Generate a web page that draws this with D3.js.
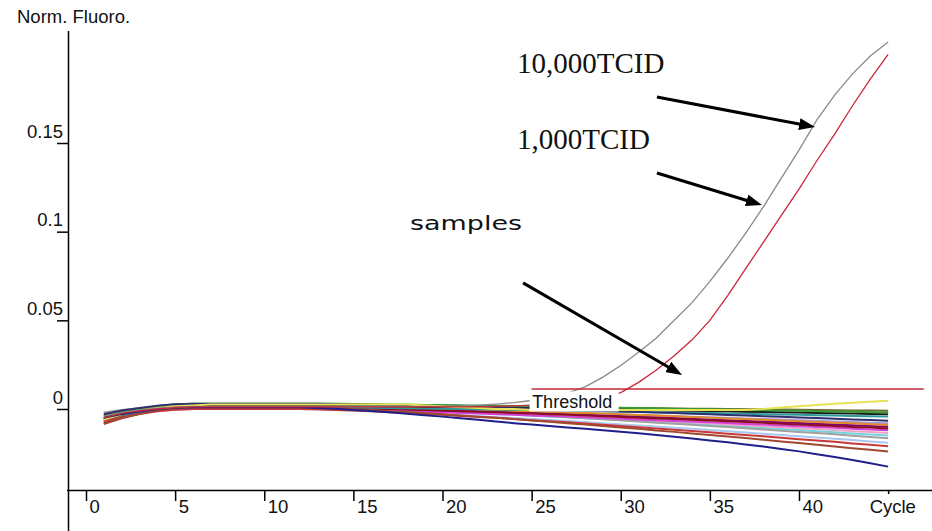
<!DOCTYPE html>
<html><head><meta charset="utf-8">
<script src="https://cdn.jsdelivr.net/npm/d3@7"></script>
<style>html,body{margin:0;padding:0;background:#fff;overflow:hidden} svg{display:block}</style>
</head><body>
<svg id="chart" width="932" height="531"></svg>
<script>
// ---------------- DATA ----------------
const cycles = [1,2,3,4,5,6,7,8,9,10,11,12,13,14,15,16,17,18,19,20,21,22,23,24,25,26,27,28,29,30,31,32,33,34,35,36,37,38,39,40,41,42,43,44,45];
const xTickValues = [0,5,10,15,20,25,30,35,40,45];
const xTickLabels = ["0","5","10","15","20","25","30","35","40","Cycle"];
const yTickValues = [0,0.05,0.1,0.15];
const yTickLabels = ["0","0.05","0.1","0.15"];
const yAxisTitle = "Norm. Fluoro.";
const thresholdLabel = "Threshold";
const thresholdValue = 0.0113;
const thresholdCycles = [25, 47];

const positiveNames = ["10,000TCID", "1,000TCID"];
const positive10000 = [-0.004,-0.002,-0.0005,0.0005,0.001,0.0015,0.0015,0.0015,0.0015,0.0015,0.0015,0.0015,0.0015,0.0015,0.0015,0.0015,0.0015,0.0015,0.0015,0.0015,0.0018,0.0022,0.0028,0.0036,0.0048,0.0065,0.009,0.0125,0.018,0.0245,0.032,0.04,0.05,0.06,0.072,0.085,0.099,0.114,0.13,0.146,0.163,0.177,0.189,0.199,0.207];
const positive1000 = [-0.005,-0.0025,-0.001,0,0.0008,0.0012,0.0012,0.0012,0.0012,0.0012,0.0012,0.0012,0.0012,0.0012,0.0012,0.0012,0.0012,0.0012,0.0012,0.0012,0.0012,0.0012,0.0015,0.0018,0.0022,0.0028,0.0036,0.0048,0.0066,0.0092,0.015,0.022,0.03,0.039,0.05,0.064,0.079,0.094,0.109,0.124,0.14,0.155,0.171,0.186,0.2];

// negative samples
const sampleYellow = [-0.006,-0.003,-0.001,0.0005,0.0015,0.002,0.0025,0.0025,0.0025,0.0025,0.0025,0.0025,0.0025,0.0025,0.0025,0.0025,0.0025,0.0025,0.002,0.0015,0.001,0.0005,0,0,-0.0005,-0.0005,-0.0005,-0.0005,-0.0005,-0.0005,-0.0005,-0.0005,-0.0005,-0.0005,-0.0005,-0.0005,-0.0005,0,0.0008,0.0015,0.0022,0.0029,0.0035,0.0041,0.0047];
const sampleGreen = [-0.004,-0.0015,0.0002,0.0017,0.0027,0.003,0.003,0.003,0.003,0.003,0.003,0.003,0.0029,0.0029,0.0028,0.0027,0.0026,0.0025,0.0023,0.0022,0.0021,0.0019,0.0018,0.0017,0.0015,0.0014,0.0012,0.001,0.0009,0.0007,0.0006,0.0004,0.0002,0,-0.0001,-0.0003,-0.0005,-0.0007,-0.0009,-0.001,-0.0012,-0.0014,-0.0016,-0.0018,-0.002];
const sampleOlive = [-0.006,-0.0032,-0.0012,0.0006,0.0016,0.002,0.002,0.002,0.002,0.002,0.002,0.002,0.002,0.0019,0.0019,0.0018,0.0017,0.0017,0.0016,0.0015,0.0014,0.0014,0.0013,0.0012,0.0011,0.001,0.0009,0.0008,0.0007,0.0006,0.0005,0.0004,0.0003,0.0002,0.0001,0,-0.0001,-0.0002,-0.0003,-0.0004,-0.0005,-0.0007,-0.0008,-0.0009,-0.001];
const sampleBlack = [-0.005,-0.0026,-0.0008,0.0007,0.0017,0.002,0.002,0.002,0.002,0.002,0.002,0.002,0.0019,0.0019,0.0018,0.0017,0.0016,0.0015,0.0013,0.0012,0.0011,0.0009,0.0008,0.0007,0.0005,0.0004,0.0002,0,-0.0001,-0.0003,-0.0004,-0.0006,-0.0008,-0.001,-0.0011,-0.0013,-0.0015,-0.0017,-0.0019,-0.002,-0.0022,-0.0024,-0.0026,-0.0028,-0.003];
const sampleTeal = [-0.007,-0.0042,-0.0022,-0.0004,0.0006,0.001,0.001,0.001,0.001,0.001,0.001,0.001,0.0009,0.0009,0.0008,0.0007,0.0005,0.0004,0.0003,0.0002,0,-0.0001,-0.0003,-0.0004,-0.0006,-0.0007,-0.0009,-0.0011,-0.0012,-0.0014,-0.0016,-0.0018,-0.002,-0.0021,-0.0023,-0.0025,-0.0027,-0.0029,-0.0031,-0.0033,-0.0035,-0.0037,-0.0039,-0.0041,-0.0043];
const sampleDarkNavy = [-0.003,-0.0009,0.0006,0.0019,0.0027,0.003,0.003,0.003,0.003,0.003,0.003,0.003,0.0029,0.0028,0.0026,0.0024,0.0022,0.0019,0.0017,0.0015,0.0012,0.001,0.0007,0.0004,0.0001,-0.0002,-0.0005,-0.0007,-0.0011,-0.0014,-0.0017,-0.002,-0.0023,-0.0027,-0.003,-0.0034,-0.0037,-0.0041,-0.0044,-0.0048,-0.0051,-0.0055,-0.0059,-0.0062,-0.0066];
const sampleLavender = [-0.005,-0.0029,-0.0014,-0.0001,0.0007,0.001,0.001,0.001,0.001,0.001,0.001,0.001,0.0009,0.0008,0.0006,0.0004,0.0002,0,-0.0002,-0.0004,-0.0007,-0.0009,-0.0012,-0.0014,-0.0017,-0.002,-0.0022,-0.0025,-0.0028,-0.0031,-0.0034,-0.0037,-0.004,-0.0043,-0.0046,-0.005,-0.0053,-0.0056,-0.0059,-0.0063,-0.0066,-0.007,-0.0073,-0.0077,-0.008];
const samplePurple = [-0.008,-0.0049,-0.0026,-0.0006,0.0006,0.001,0.001,0.001,0.001,0.001,0.001,0.001,0.0009,0.0007,0.0005,0.0003,0.0001,-0.0002,-0.0005,-0.0008,-0.001,-0.0013,-0.0016,-0.002,-0.0023,-0.0026,-0.003,-0.0033,-0.0036,-0.004,-0.0044,-0.0047,-0.0051,-0.0055,-0.0059,-0.0063,-0.0067,-0.0071,-0.0075,-0.0079,-0.0083,-0.0087,-0.0091,-0.0096,-0.01];
const sampleMagenta = [-0.006,-0.0039,-0.0024,-0.0011,-0.0003,0,0,0,0,0,0,0,-0.0001,-0.0003,-0.0005,-0.0008,-0.001,-0.0013,-0.0016,-0.0019,-0.0022,-0.0025,-0.0029,-0.0032,-0.0036,-0.0039,-0.0043,-0.0047,-0.0051,-0.0055,-0.0059,-0.0063,-0.0067,-0.0071,-0.0075,-0.0079,-0.0084,-0.0088,-0.0093,-0.0097,-0.0101,-0.0106,-0.0111,-0.0115,-0.012];
const sampleDarkRed = [-0.006,-0.0036,-0.0018,-0.0003,0.0006,0.001,0.001,0.001,0.001,0.001,0.001,0.001,0.0009,0.0007,0.0005,0.0002,0,-0.0003,-0.0006,-0.0009,-0.0012,-0.0015,-0.0019,-0.0022,-0.0026,-0.0029,-0.0033,-0.0037,-0.0041,-0.0045,-0.0049,-0.0053,-0.0057,-0.0061,-0.0065,-0.0069,-0.0074,-0.0078,-0.0083,-0.0087,-0.0091,-0.0096,-0.0101,-0.0105,-0.011];
const sampleOrange = [-0.007,-0.0039,-0.0016,0.0004,0.0016,0.002,0.002,0.002,0.002,0.002,0.002,0.002,0.0019,0.0017,0.0015,0.0013,0.0011,0.0008,0.0005,0.0002,0,-0.0003,-0.0006,-0.001,-0.0013,-0.0016,-0.002,-0.0023,-0.0026,-0.003,-0.0034,-0.0037,-0.0041,-0.0045,-0.0049,-0.0053,-0.0057,-0.0061,-0.0065,-0.0069,-0.0073,-0.0077,-0.0081,-0.0086,-0.009];
const samplePink = [-0.004,-0.0022,-0.001,0.0001,0.0007,0.001,0.001,0.001,0.001,0.001,0.001,0.001,0.0008,0.0006,0.0004,0.0001,-0.0003,-0.0006,-0.0009,-0.0013,-0.0017,-0.0021,-0.0025,-0.0029,-0.0034,-0.0038,-0.0042,-0.0047,-0.0052,-0.0056,-0.0061,-0.0066,-0.0071,-0.0076,-0.0081,-0.0087,-0.0092,-0.0097,-0.0103,-0.0108,-0.0113,-0.0119,-0.0125,-0.013,-0.0136];
const sampleCyan = [-0.003,-0.0016,-0.0006,0.0003,0.0008,0.001,0.001,0.001,0.001,0.001,0.001,0.001,0.0008,0.0006,0.0003,0,-0.0004,-0.0007,-0.0011,-0.0015,-0.002,-0.0024,-0.0028,-0.0033,-0.0038,-0.0043,-0.0047,-0.0052,-0.0058,-0.0063,-0.0068,-0.0074,-0.0079,-0.0084,-0.009,-0.0096,-0.0102,-0.0107,-0.0113,-0.0119,-0.0125,-0.0131,-0.0138,-0.0144,-0.015];
const sampleGray = [-0.002,-0.0006,0.0004,0.0013,0.0018,0.002,0.002,0.002,0.002,0.002,0.002,0.002,0.0018,0.0015,0.0012,0.0008,0.0004,0,-0.0005,-0.0009,-0.0014,-0.0019,-0.0024,-0.003,-0.0035,-0.0041,-0.0046,-0.0052,-0.0058,-0.0064,-0.007,-0.0077,-0.0083,-0.0089,-0.0096,-0.0102,-0.0109,-0.0116,-0.0123,-0.013,-0.0136,-0.0143,-0.0151,-0.0158,-0.0165];
const sampleLightBlue = [-0.003,-0.002,-0.0012,-0.0005,-0.0002,0,0,0,0,0,0,0,-0.0002,-0.0005,-0.0008,-0.0012,-0.0016,-0.0021,-0.0025,-0.003,-0.0035,-0.004,-0.0046,-0.0051,-0.0057,-0.0062,-0.0068,-0.0074,-0.008,-0.0087,-0.0093,-0.0099,-0.0106,-0.0112,-0.0119,-0.0126,-0.0132,-0.014,-0.0147,-0.0154,-0.0161,-0.0168,-0.0175,-0.0183,-0.019];
const sampleRed = [-0.007,-0.0046,-0.0028,-0.0013,-0.0004,0,0,0,0,0,0,0,-0.0002,-0.0006,-0.0009,-0.0013,-0.0018,-0.0023,-0.0028,-0.0033,-0.0039,-0.0045,-0.005,-0.0056,-0.0063,-0.0069,-0.0075,-0.0082,-0.0089,-0.0096,-0.0103,-0.011,-0.0117,-0.0124,-0.0131,-0.0139,-0.0146,-0.0154,-0.0162,-0.017,-0.0178,-0.0185,-0.0194,-0.0202,-0.021];
const sampleBrown = [-0.0085,-0.0052,-0.0028,-0.0007,0.0005,0.001,0.001,0.001,0.001,0.001,0.001,0.001,0.0007,0.0004,-0.0001,-0.0006,-0.0012,-0.0017,-0.0023,-0.003,-0.0036,-0.0043,-0.005,-0.0057,-0.0065,-0.0072,-0.008,-0.0088,-0.0096,-0.0104,-0.0112,-0.0121,-0.0129,-0.0138,-0.0146,-0.0155,-0.0164,-0.0174,-0.0183,-0.0192,-0.0201,-0.0211,-0.0221,-0.023,-0.024];
const sampleNavy = [-0.005,-0.0029,-0.0014,-0.0001,0.0007,0.001,0.001,0.001,0.001,0.001,0.001,0.001,0.0006,0.0001,-0.0005,-0.0011,-0.0019,-0.0027,-0.0035,-0.0043,-0.0052,-0.0061,-0.007,-0.008,-0.0088,-0.0096,-0.0104,-0.0112,-0.012,-0.0128,-0.0137,-0.0146,-0.0156,-0.0166,-0.0177,-0.0188,-0.02,-0.0212,-0.0225,-0.0239,-0.0255,-0.0271,-0.0288,-0.0306,-0.0325];

const samples = [sampleLightBlue, sampleCyan, samplePink, sampleLavender, sampleGray, sampleMagenta, samplePurple,
  sampleOrange, sampleDarkRed, sampleTeal, sampleOlive, sampleBlack, sampleGreen, sampleDarkNavy, sampleRed, sampleBrown, sampleYellow, sampleNavy];
// styles (kept apart from the data)
const sampleColors = ["#a8c8f0","#6fd6e0","#f0a4c8","#a898d8","#a0a0a0","#d840d8","#800080",
  "#e08a2a","#8a1020","#2a9a9a","#6b6b2a","#1a1a1a","#3a9a3a","#303070","#c83838","#a04830","#e6e455","#20208a"];
const positiveColors = ["#8a8a8a","#c8283a"];

// annotations (data coordinates: cycle, value)
const annotationTexts = ["10,000TCID","1,000TCID","samples"];
const annotationAt = [[24.18,0.1895],[24.18,0.1466],[18.18,0.1009]];
const arrowFrom = [[32.03,0.1759],[32.03,0.1331],[24.52,0.0711]];
const arrowTo = [[40.90,0.1590],[37.92,0.1150],[33.44,0.0192]];

// ---------------- DRAW ----------------
const svg = d3.select("#chart");
const sans = "'Liberation Sans', Arial, sans-serif";
const x = d3.scaleLinear().domain([0,40]).range([86,799]);
const y = d3.scaleLinear().domain([0,0.15]).range([409,143]);

// y-axis title
svg.append("text").attr("x",17).attr("y",23).attr("font-family",sans).attr("font-size",18.5)
  .attr("fill","#111").text(yAxisTitle);

// axis lines
svg.append("line").attr("x1",68.5).attr("x2",68.5).attr("y1",31).attr("y2",531).attr("stroke","#000").attr("stroke-width",1.5);
svg.append("line").attr("x1",67).attr("x2",932).attr("y1",490.5).attr("y2",490.5).attr("stroke","#000").attr("stroke-width",1.5);

// y ticks
const gy = svg.append("g").attr("transform","translate(68,0)")
  .call(d3.axisLeft(y).tickValues(yTickValues).tickSize(11).tickFormat((d,i)=>yTickLabels[i]));
gy.select(".domain").remove();
gy.selectAll(".tick line").attr("stroke","#000").attr("stroke-width",1.5);
gy.selectAll(".tick text").attr("x",-5).attr("y",-6).attr("dy",0).attr("text-anchor","end")
  .attr("font-family",sans).attr("font-size",18.5).attr("fill","#111");

// x ticks
const gx = svg.append("g").attr("transform","translate(0,490)")
  .call(d3.axisBottom(x).tickValues(xTickValues).tickSize(11).tickFormat((d,i)=>xTickLabels[i]));
gx.select(".domain").remove();
gx.selectAll(".tick line").attr("stroke","#000").attr("stroke-width",1.5).attr("y2",(d)=>d===45?4:11);
gx.selectAll(".tick text").attr("x",(d)=>d===45?-19:3).attr("y",23).attr("dy",0).attr("text-anchor","start")
  .attr("font-family",sans).attr("font-size",18.5).attr("fill","#111");

// curves
const line = d3.line().x((d,i)=>x(cycles[i])).y(d=>y(d));
svg.append("g").selectAll("path").data(samples).join("path")
  .attr("d",line).attr("fill","none").attr("stroke",(d,i)=>sampleColors[i]).attr("stroke-width",2);
svg.append("g").selectAll("path").data([positive10000, positive1000]).join("path")
  .attr("d",line).attr("fill","none").attr("stroke",(d,i)=>positiveColors[i]).attr("stroke-width",1.3);

// threshold
svg.append("line").attr("x1",x(thresholdCycles[0])).attr("x2",x(thresholdCycles[1]))
  .attr("y1",y(thresholdValue)).attr("y2",y(thresholdValue)).attr("stroke","#c0283c").attr("stroke-width",1.6);
svg.append("rect").attr("x",x(thresholdCycles[0])-2).attr("y",y(thresholdValue)+2.5).attr("width",89).attr("height",20).attr("fill","#fff");
svg.append("text").attr("x",x(thresholdCycles[0])+0.5).attr("y",y(thresholdValue)+19).attr("font-family",sans)
  .attr("font-size",18).attr("fill","#111").text(thresholdLabel);

// annotations
const defs = svg.append("defs");
defs.append("marker").attr("id","ah").attr("viewBox","0 -6 16 12").attr("refX",8).attr("refY",0)
  .attr("markerWidth",16).attr("markerHeight",12).attr("markerUnits","userSpaceOnUse").attr("orient","auto")
  .append("path").attr("d","M0,-6L16,0L0,6Z").attr("fill","#000");
arrowFrom.forEach((f,i)=>{
  const x1=x(f[0]), y1=y(f[1]), x2=x(arrowTo[i][0]), y2=y(arrowTo[i][1]);
  const L=Math.hypot(x2-x1,y2-y1), ux=(x2-x1)/L, uy=(y2-y1)/L;
  svg.append("line").attr("x1",x1).attr("y1",y1).attr("x2",x2-ux*8).attr("y2",y2-uy*8)
    .attr("stroke","#000").attr("stroke-width",3).attr("marker-end","url(#ah)");
});
svg.append("text").attr("x",x(annotationAt[0][0])).attr("y",y(annotationAt[0][1]))
  .attr("font-family","'Liberation Serif','Times New Roman',serif").attr("font-size",29).attr("fill","#111").text(annotationTexts[0]);
svg.append("text").attr("x",x(annotationAt[1][0])).attr("y",y(annotationAt[1][1]))
  .attr("font-family","'Liberation Serif','Times New Roman',serif").attr("font-size",29).attr("fill","#111").text(annotationTexts[1]);
svg.append("text").attr("x",x(annotationAt[2][0])).attr("y",y(annotationAt[2][1]))
  .attr("font-family","'DejaVu Sans',sans-serif").attr("font-size",20).attr("fill","#111")
  .attr("textLength",112).attr("lengthAdjust","spacingAndGlyphs").text(annotationTexts[2]);
</script>
</body></html>
